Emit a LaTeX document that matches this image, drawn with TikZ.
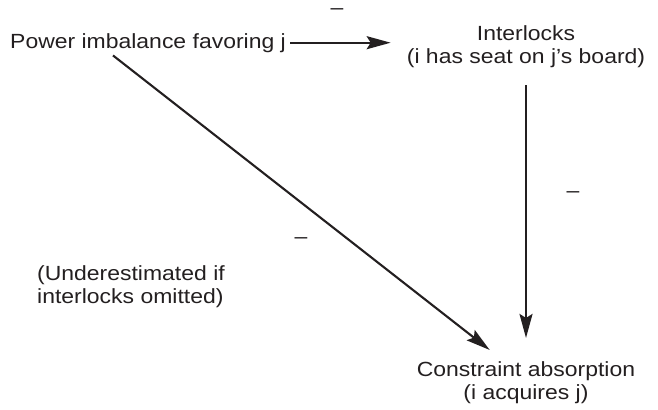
\documentclass[tikz,border=0pt]{standalone}
\usepackage{fontspec}
\setmainfont{Liberation Sans}[FakeStretch=1.12]
\usepackage{tikz}
\usetikzlibrary{arrows.meta, calc, positioning}
\usepackage{xcolor}
\definecolor{mInk}{HTML}{231F20}

\begin{document}
\begin{tikzpicture}[x=1bp, y=-1bp, >={Stealth[length=24bp, width=13bp, inset=4bp]},
  txt/.style={inner sep=0pt, text=mInk, font=\fontsize{20.5bp}{23bp}\selectfont},
  sgn/.style={txt, anchor=center},
  arr/.style={->, mInk, line width=2.1bp}]
  \useasboundingbox (0,0) rectangle (658,409);
  % variables (base = last line)
  \node[txt, anchor=base west] (power) at (10,48) {Power imbalance favoring j};
  \node[txt, anchor=base, align=center] (interlocks) at (526,63) {Interlocks\\(i has seat on j’s board)};
  \node[txt, anchor=base, align=center] (absorb) at (526,399) {Constraint absorption\\(i acquires j)};
  \node[txt, anchor=base west, align=left] (note) at (37,303) {(Underestimated if\\interlocks omitted)};
  % paths
  \draw[arr, shorten <=4bp, shorten >=16bp] (power.east) -- (power.east -| interlocks.west);
  \draw[arr, shorten <=18bp, shorten >=23bp] (interlocks) -- (absorb);
  \draw[arr] ([xshift=103bp, yshift=-3bp]power.south west) -- ([xshift=73bp, yshift=11bp]absorb.north west);
  % signs
  \node[sgn] (s1) at (337,12) {–};
  \node[sgn] (s2) at (573,195) {–};
  \node[sgn] (s3) at (301,241) {–};
\end{tikzpicture}
\end{document}
